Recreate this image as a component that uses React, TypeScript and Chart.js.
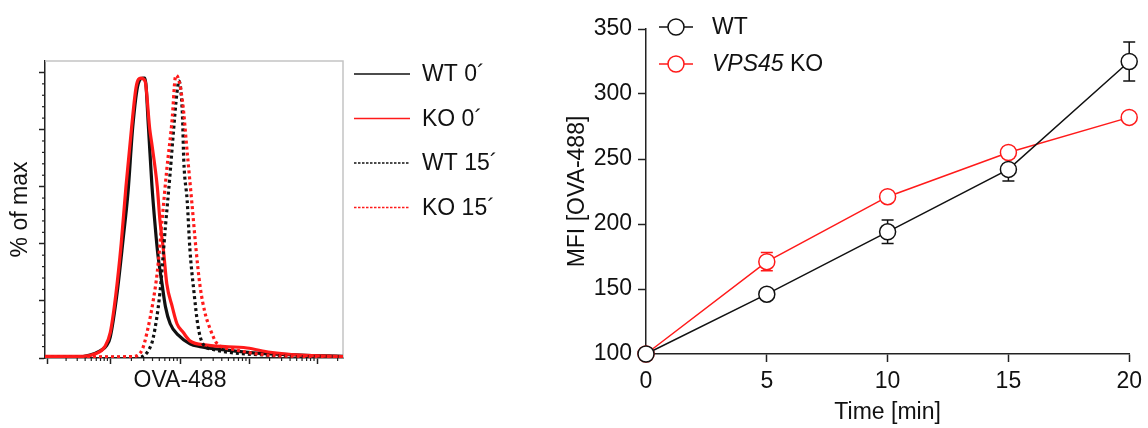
import React, { useEffect, useRef } from "react";
import { Chart, registerables } from "chart.js";

Chart.register(...registerables);

const FONT = "'Liberation Sans', Arial, Helvetica, sans-serif";
const FONT_SIZE = 23;
const RED = "#ff1a1a";
const BLACK = "#111111";

// ---------- Left panel: OVA-488 histograms (x in log-decade units, y in % of max) ----------
const WT0_X = [-0.03, 0.3, 0.53, 0.63, 0.78, 0.88, 0.93, 1.03, 1.12, 1.19, 1.26, 1.34, 1.41, 1.44, 1.49, 1.54, 1.59, 1.63, 1.69, 1.74, 1.81, 1.93, 2.1, 2.25, 2.54, 3.03, 3.72, 4.35];
const WT0_Y = [0.3, 0.3, 0.5, 1, 2.5, 4.5, 7.4, 22.8, 42, 58, 81, 96, 98, 98, 81, 61, 46, 36, 26, 18, 12, 8, 5, 4, 3, 1.8, 1, 0.6];

const KO0_X = [-0.03, 0.3, 0.53, 0.71, 0.85, 0.93, 1.01, 1.09, 1.16, 1.24, 1.31, 1.38, 1.44, 1.51, 1.54, 1.62, 1.66, 1.71, 1.76, 1.84, 1.91, 2.0, 2.1, 2.35, 2.94, 3.28, 3.72, 4.35];
const KO0_Y = [0.6, 0.6, 0.6, 1.5, 4, 9, 22, 40, 60, 80, 95, 98, 97, 80, 75, 60, 48, 38, 26, 18, 12, 9, 6, 4.5, 3.5, 2, 1, 0.5];

const WT15_X = [-0.03, 0.78, 1.37, 1.51, 1.56, 1.66, 1.74, 1.81, 1.85, 1.91, 1.94, 1.99, 2.01, 2.06, 2.1, 2.16, 2.22, 2.29, 2.44, 2.74, 3.24, 3.72, 4.35];
const WT15_Y = [0.2, 0.2, 0.3, 3.5, 7, 23, 46, 65, 77, 93, 97, 85, 69, 55, 38, 23, 11, 5, 3, 1.8, 1, 0.5, 0.5];

const KO15_X = [-0.03, 0.78, 1.26, 1.4, 1.47, 1.56, 1.62, 1.69, 1.76, 1.84, 1.88, 1.9, 1.99, 2.06, 2.13, 2.19, 2.25, 2.32, 2.4, 2.5, 2.74, 2.99, 3.24, 3.72, 4.35];
const KO15_Y = [0.4, 0.4, 0.5, 3, 9, 20, 30, 48, 66, 84, 97.5, 99, 90, 72, 54, 38, 25, 16, 10, 5, 3, 1.8, 1, 0.6, 0.5];

const HIST_X_MAJOR = [0, 0.93, 1.96, 2.97, 3.97];
const HIST_Y_MAJOR = [0, 20, 40, 60, 80, 100];
const HIST_Y_MINOR_STEP = 4;

const HIST_LEGEND_LABELS = ["WT 0\u00b4", "KO 0\u00b4", "WT 15\u00b4", "KO 15\u00b4"];
const HIST_LEGEND_COLORS = [BLACK, RED, BLACK, RED];
const HIST_LEGEND_DASHED = [false, false, true, true];

// ---------- Right panel: MFI over time ----------
const TIME_MIN = [0, 5, 10, 15, 20];
const WT_MFI = [100, 146, 194, 242, 325];
const WT_ERR = [0, 2, 9, 9, 15];
const KO_MFI = [100, 171, 221, 255, 282];
const KO_ERR = [0, 7, 3, 3, 2];

const toPts = (xs: number[], ys: number[]) => xs.map((x, i) => ({ x, y: ys[i] }));

function HistogramChart() {
  const ref = useRef<HTMLCanvasElement>(null);
  useEffect(() => {
    const framePlugin = {
      id: "histFrame",
      beforeDatasetsDraw(chart: any) {
        const { ctx, chartArea: a } = chart;
        ctx.save();
        ctx.strokeStyle = "#c4c4c4";
        ctx.lineWidth = 1.5;
        ctx.beginPath();
        ctx.moveTo(a.left, a.top);
        ctx.lineTo(a.right, a.top);
        ctx.lineTo(a.right, a.bottom);
        ctx.stroke();
        ctx.restore();
      },
      afterDraw(chart: any) {
        const { ctx, chartArea: a, scales } = chart;
        ctx.save();
        ctx.strokeStyle = "#222";
        ctx.lineWidth = 1.2;
        const ys = scales.y;
        for (let v = HIST_Y_MINOR_STEP; v < 100; v += HIST_Y_MINOR_STEP) {
          if (v % 20 === 0) continue;
          const p = ys.getPixelForValue(v);
          ctx.beginPath();
          ctx.moveTo(a.left - 3, p);
          ctx.lineTo(a.left, p);
          ctx.stroke();
        }
        const xs = scales.x;
        for (let d = 0; d < HIST_X_MAJOR.length; d++) {
          const start = HIST_X_MAJOR[d];
          const span = d + 1 < HIST_X_MAJOR.length ? HIST_X_MAJOR[d + 1] - start : 1;
          for (let k = 2; k <= 9; k++) {
            const v = start + span * Math.log10(k);
            if (v > xs.max) continue;
            const p = xs.getPixelForValue(v);
            ctx.beginPath();
            ctx.moveTo(p, a.bottom);
            ctx.lineTo(p, a.bottom + 3);
            ctx.stroke();
          }
        }
        ctx.fillStyle = "#111";
        ctx.font = `${FONT_SIZE}px ${FONT}`;
        ctx.textAlign = "center";
        ctx.textBaseline = "middle";
        ctx.fillText("OVA-488", 180, 381);
        HIST_LEGEND_LABELS.forEach((lab, i) => {
          const y = 74 + i * 44.5;
          ctx.strokeStyle = HIST_LEGEND_COLORS[i];
          ctx.lineWidth = 1.5;
          ctx.setLineDash(HIST_LEGEND_DASHED[i] ? [2.5, 1.5] : []);
          ctx.beginPath();
          ctx.moveTo(354, y);
          ctx.lineTo(410, y);
          ctx.stroke();
          ctx.setLineDash([]);
          ctx.fillStyle = "#111";
          ctx.textAlign = "left";
          ctx.fillText(lab, 422, y + 1);
        });
        ctx.restore();
      },
    };

    const common = { pointRadius: 0, borderWidth: 3.2, cubicInterpolationMode: "monotone" as const, fill: false };
    const chart = new Chart(ref.current!, {
      type: "line",
      data: {
        datasets: [
          { ...common, label: "KO 15´", data: toPts(KO15_X, KO15_Y), borderColor: RED, borderDash: [3, 3] },
          { ...common, label: "WT 15´", data: toPts(WT15_X, WT15_Y), borderColor: BLACK, borderDash: [3, 3] },
          { ...common, label: "KO 0´", data: toPts(KO0_X, KO0_Y), borderColor: RED },
          { ...common, label: "WT 0´", data: toPts(WT0_X, WT0_Y), borderColor: BLACK },
        ],
      },
      options: {
        animation: false,
        responsive: false,
        maintainAspectRatio: false,
        layout: { padding: { top: 61, right: 197, left: 0, bottom: 0 } },
        plugins: { legend: { display: false }, tooltip: { enabled: false } },
        scales: {
          x: {
            type: "linear",
            min: -0.03,
            max: 4.35,
            afterBuildTicks: (s: any) => {
              s.ticks = HIST_X_MAJOR.map((v) => ({ value: v }));
            },
            afterFit: (s: any) => {
              s.height = 70;
            },
            ticks: { display: false },
            grid: { drawOnChartArea: false, drawTicks: true, tickLength: 6, tickColor: "#222", tickWidth: 1.5 },
            border: { color: "#222", width: 1.5 },
          },
          y: {
            min: 0,
            max: 104,
            afterBuildTicks: (s: any) => {
              s.ticks = HIST_Y_MAJOR.map((v) => ({ value: v }));
            },
            afterFit: (s: any) => {
              s.width = 45;
            },
            ticks: { display: false },
            grid: { drawOnChartArea: false, drawTicks: true, tickLength: 6, tickColor: "#222", tickWidth: 1.5 },
            border: { color: "#222", width: 1.5 },
            title: {
              display: true,
              text: "% of max",
              color: "#111",
              font: { family: FONT, size: FONT_SIZE },
              padding: { top: 7, bottom: 0 },
            },
          },
        },
      },
      plugins: [framePlugin],
    });
    return () => chart.destroy();
  }, []);
  return <canvas ref={ref} width={540} height={428} style={{ position: "absolute", left: 0, top: 0 }} />;
}

function MfiChart() {
  const ref = useRef<HTMLCanvasElement>(null);
  useEffect(() => {
    const errors = [WT_ERR, KO_ERR];
    const errorPlugin = {
      id: "errorBars",
      beforeDatasetsDraw(chart: any) {
        const { ctx, scales } = chart;
        ctx.save();
        ctx.lineWidth = 1.5;
        chart.data.datasets.forEach((ds: any, di: number) => {
          ctx.strokeStyle = ds.borderColor;
          ds.data.forEach((pt: any, i: number) => {
            const e = errors[di][i];
            if (!e) return;
            const x = scales.x.getPixelForValue(pt.x);
            const y1 = scales.y.getPixelForValue(pt.y + e);
            const y2 = scales.y.getPixelForValue(pt.y - e);
            ctx.beginPath();
            ctx.moveTo(x, y1);
            ctx.lineTo(x, y2);
            ctx.moveTo(x - 6, y1);
            ctx.lineTo(x + 6, y1);
            ctx.moveTo(x - 6, y2);
            ctx.lineTo(x + 6, y2);
            ctx.stroke();
          });
        });
        ctx.restore();
      },
      afterDraw(chart: any) {
        const { ctx } = chart;
        ctx.save();
        const items = [
          { color: BLACK, y: 27, italic: "", rest: "WT" },
          { color: RED, y: 64, italic: "VPS45", rest: " KO" },
        ];
        items.forEach((it) => {
          ctx.strokeStyle = it.color;
          ctx.lineWidth = 1.5;
          ctx.beginPath();
          ctx.moveTo(119, it.y);
          ctx.lineTo(153, it.y);
          ctx.stroke();
          ctx.fillStyle = "#fff";
          ctx.beginPath();
          ctx.arc(136, it.y, 8, 0, Math.PI * 2);
          ctx.fill();
          ctx.stroke();
          ctx.fillStyle = "#111";
          ctx.textAlign = "left";
          ctx.textBaseline = "middle";
          let x = 172;
          if (it.italic) {
            ctx.font = `italic ${FONT_SIZE}px ${FONT}`;
            ctx.fillText(it.italic, x, it.y + 1);
            x += ctx.measureText(it.italic).width;
          }
          ctx.font = `${FONT_SIZE}px ${FONT}`;
          ctx.fillText(it.rest, x, it.y + 1);
        });
        ctx.restore();
      },
    };

    const tickFont = { family: FONT, size: FONT_SIZE };
    const ds = (label: string, ys: number[], color: string) => ({
      label,
      data: toPts(TIME_MIN, ys),
      borderColor: color,
      borderWidth: 1.5,
      pointRadius: 8,
      pointBorderWidth: 1.5,
      pointBorderColor: color,
      pointBackgroundColor: "#fff",
      tension: 0,
      clip: false as any,
      fill: false,
    });
    const chart = new Chart(ref.current!, {
      type: "line",
      data: { datasets: [ds("WT", WT_MFI, BLACK), ds("VPS45 KO", KO_MFI, RED)] },
      options: {
        animation: false,
        responsive: false,
        maintainAspectRatio: false,
        layout: { padding: { top: 29, right: 15, left: 0, bottom: 0 } },
        plugins: { legend: { display: false }, tooltip: { enabled: false } },
        scales: {
          x: {
            type: "linear",
            min: 0,
            max: 20,
            afterFit: (s: any) => {
              s.height = 74;
            },
            ticks: { stepSize: 5, font: tickFont, color: "#111", padding: 6 },
            grid: { drawOnChartArea: false, tickLength: 8, tickColor: "#222", tickWidth: 1.5 },
            border: { color: "#222", width: 1.5 },
            title: {
              display: true,
              text: "Time [min]",
              color: "#111",
              font: tickFont,
              padding: { top: 0, bottom: 2 },
            },
          },
          y: {
            min: 100,
            max: 350,
            afterFit: (s: any) => {
              s.width = 106;
            },
            ticks: { stepSize: 50, font: tickFont, color: "#111", padding: 6 },
            grid: { drawOnChartArea: false, tickLength: 8, tickColor: "#222", tickWidth: 1.5 },
            border: { color: "#222", width: 1.5 },
            title: {
              display: true,
              text: "MFI [OVA-488]",
              color: "#111",
              font: tickFont,
              padding: { top: 24, bottom: 0 },
            },
          },
        },
      },
      plugins: [errorPlugin],
    });
    return () => chart.destroy();
  }, []);
  return <canvas ref={ref} width={608} height={428} style={{ position: "absolute", left: 540, top: 0 }} />;
}

export default function App() {
  return (
    <div style={{ position: "absolute", left: 0, top: 0, width: 1148, height: 428, background: "#fff", overflow: "hidden" }}>
      <HistogramChart />
      <MfiChart />
    </div>
  );
}
